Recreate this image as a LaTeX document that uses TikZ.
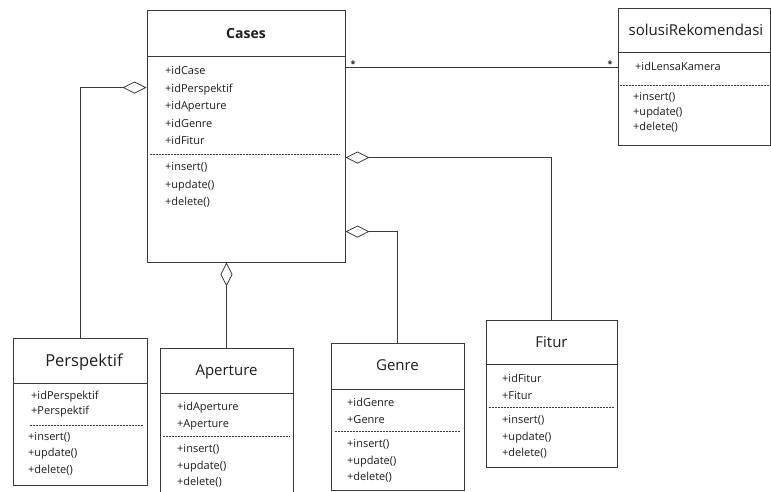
\documentclass[tikz,border=0pt]{standalone}
\usepackage{fontspec}
\setmainfont{Open Sans}
\usetikzlibrary{arrows.meta,positioning}
\definecolor{ln}{HTML}{3A3A3A}
\definecolor{tx}{HTML}{1E1E1E}
\tikzset{
  cls/.style={draw=ln,line width=0.9pt,fill=white,inner sep=0pt},
  ttl/.style={font=\fontsize{15}{18}\selectfont,text=tx,inner sep=0pt},
  mem/.style={font=\fontsize{11}{16.5}\selectfont,text=tx,align=left,anchor=north west,inner sep=0pt},
  sep/.style={draw=ln,line width=0.8pt},
  dsep/.style={draw=ln,line width=0.6pt,dash pattern=on 2pt off 1pt},
  agg/.style={draw=ln,line width=0.8pt,-{Diamond[open,length=24pt,width=12pt,line width=0.8pt]}},
  asc/.style={draw=ln,line width=0.8pt},
  mult/.style={font=\small\bfseries,text=tx,inner sep=0pt},
}

\begin{document}
\begin{tikzpicture}[x=1pt,y=-1pt]
  \clip (0,0) rectangle (771,492);
  \fill[white] (0,0) rectangle (771,492);

  % central class
  \node[cls,minimum width=198pt,minimum height=252pt] (cases) at (246,136) {};
  \node[ttl,font=\fontsize{14}{16}\selectfont\bfseries] (casesT) at (246,34) {Cases};
  \draw[sep] ([yshift=-47pt]cases.north west) -- ([yshift=-47pt]cases.north east);
  \draw[dsep] ([xshift=3pt,yshift=-145pt]cases.north west) -- ([xshift=-5pt,yshift=-145pt]cases.north east);
  \node[mem,font=\fontsize{11}{17.5}\selectfont] (casesA) at (165,66) {+idCase\\+idPerspektif\\+idAperture\\+idGenre\\+idFitur};
  \node[mem,font=\fontsize{11}{17.5}\selectfont] (casesM) at (165,162.5) {+insert()\\+update()\\+delete()};

  % result class
  \node[cls,minimum width=152pt,minimum height=137pt] (solu) at (694,76.5) {};
  \node[ttl] (soluT) at (696,30) {solusiRekomendasi};
  \draw[sep] ([yshift=-45pt]solu.north west) -- ([yshift=-45pt]solu.north east);
  \draw[dsep] ([xshift=2pt,yshift=-78pt]solu.north west) -- ([yshift=-78pt]solu.north east);
  \node[mem] (soluA) at (635,62) {+idLensaKamera};
  \node[mem,font=\fontsize{11}{15}\selectfont] (soluM) at (633,92) {+insert()\\+update()\\+delete()};

  % lookup classes
  \node[cls,minimum width=134pt,minimum height=147pt] (persp) at (80,411.5) {};
  \node[ttl,font=\fontsize{16.5}{18}\selectfont] (perspT) at (84,362) {Perspektif};
  \draw[sep] ([yshift=-46pt]persp.north west) -- ([yshift=-46pt]persp.north east);
  \draw[dsep] ([xshift=17pt,yshift=-88pt]persp.north west) -- ([xshift=-4pt,yshift=-88pt]persp.north east);
  \node[mem,font=\fontsize{11}{15}\selectfont] (perspA) at (31,391) {+idPerspektif\\+Perspektif};
  \node[mem] (perspM) at (28,432) {+insert()\\+update()\\+delete()};

  \node[cls,minimum width=133pt,minimum height=162pt] (aper) at (226.5,429) {};
  \node[ttl] (aperT) at (226.5,372) {Aperture};
  \draw[sep] ([yshift=-46pt]aper.north west) -- ([yshift=-46pt]aper.north east);
  \draw[dsep] ([xshift=3pt,yshift=-89pt]aper.north west) -- ([xshift=-3pt,yshift=-89pt]aper.north east);
  \node[mem] (aperA) at (177,402) {+idAperture\\+Aperture};
  \node[mem] (aperM) at (177,444.5) {+insert()\\+update()\\+delete()};

  \node[cls,minimum width=133pt,minimum height=147pt] (genre) at (397.5,416.5) {};
  \node[ttl] (genreT) at (397.5,365) {Genre};
  \draw[sep] ([yshift=-47pt]genre.north west) -- ([yshift=-47pt]genre.north east);
  \draw[dsep] ([xshift=4pt,yshift=-89pt]genre.north west) -- ([xshift=-4pt,yshift=-89pt]genre.north east);
  \node[mem] (genreA) at (347,398) {+idGenre\\+Genre};
  \node[mem] (genreM) at (347,439.5) {+insert()\\+update()\\+delete()};

  \node[cls,minimum width=131pt,minimum height=147pt] (fitur) at (551.5,393.5) {};
  \node[ttl] (fiturT) at (551.5,342) {Fitur};
  \draw[sep] ([yshift=-45pt]fitur.north west) -- ([yshift=-45pt]fitur.north east);
  \draw[dsep] ([xshift=3pt,yshift=-88pt]fitur.north west) -- ([xshift=-3pt,yshift=-88pt]fitur.north east);
  \node[mem] (fiturA) at (502,374) {+idFitur\\+Fitur};
  \node[mem] (fiturM) at (502,415.5) {+insert()\\+update()\\+delete()};

  % aggregations into Cases
  \coordinate (aggP) at ([yshift=-78pt]cases.north west);
  \coordinate (aggF) at ([yshift=-148pt]cases.north east);
  \coordinate (aggG) at ([yshift=-222pt]cases.north east);
  \draw[agg] (persp.north) |- (aggP);
  \draw[agg] (aper.north) -- (aper.north |- cases.south);
  \draw[agg] (genre.north) |- (aggG);
  \draw[agg] (fitur.north) |- (aggF);

  % association with multiplicities
  \coordinate (ascC) at ([yshift=-58pt]cases.north east);
  \draw[asc] (ascC) -- (ascC -| solu.west);
  \node[mult] (multC) at (353,64) {*};
  \node[mult] (multS) at (610,64) {*};
\end{tikzpicture}
\end{document}
